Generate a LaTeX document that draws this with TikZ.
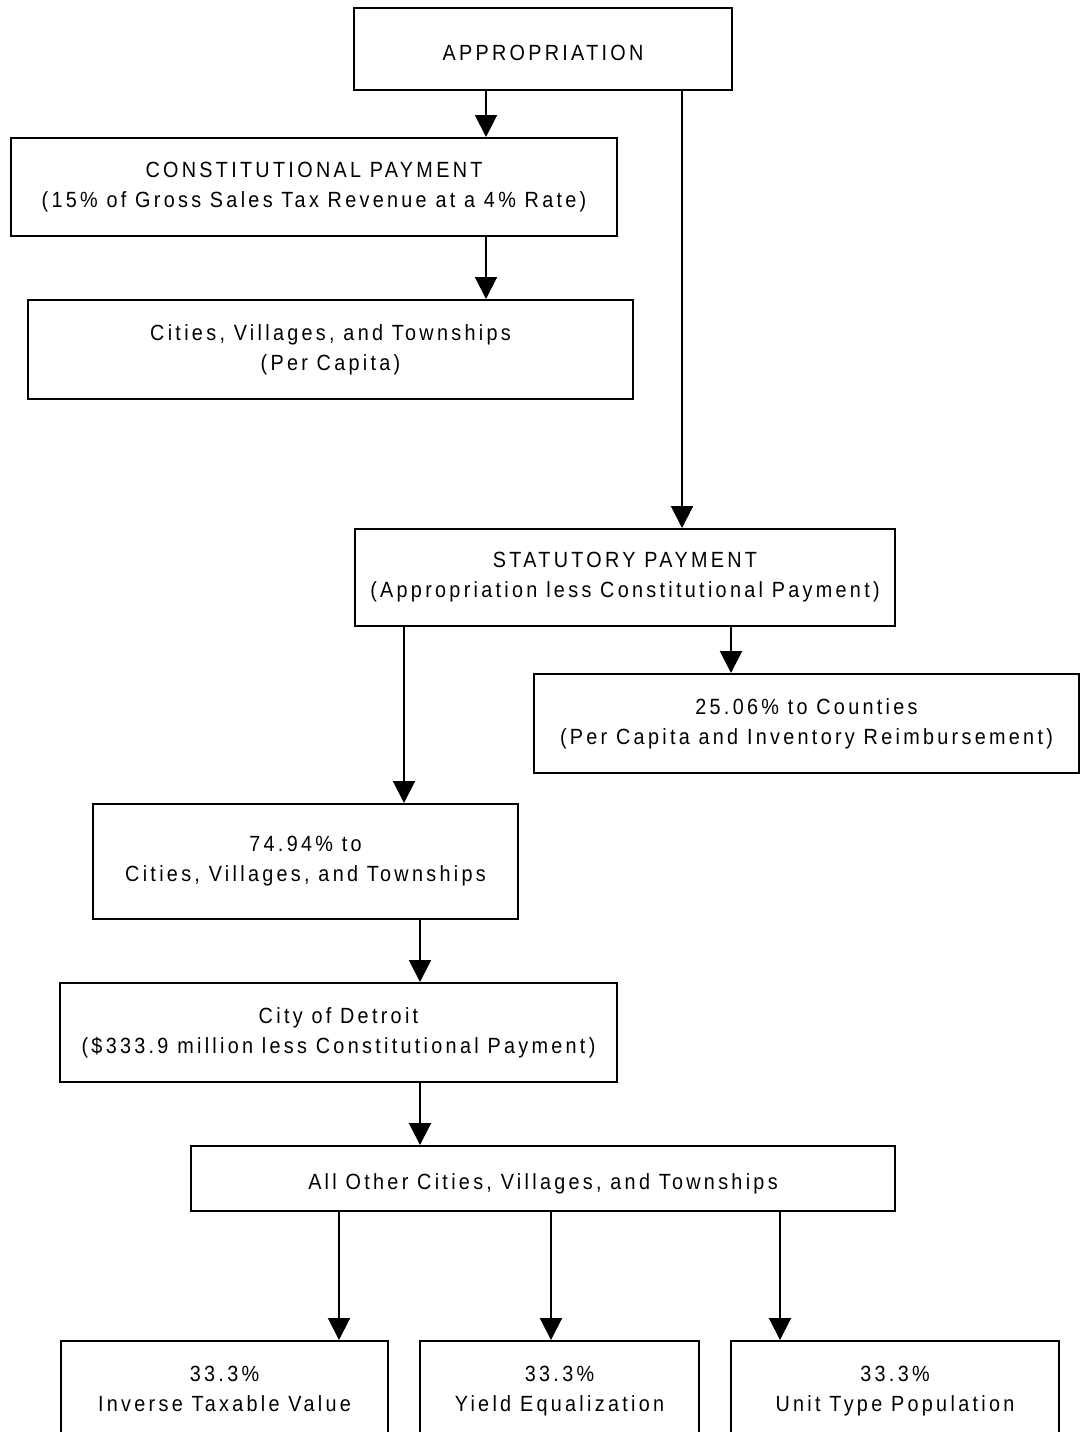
\documentclass[tikz,border=0pt]{standalone}
\usepackage{fontspec}
\setmainfont{Liberation Sans}[FakeStretch=0.9,LetterSpace=15]
\usetikzlibrary{arrows.meta}

\tikzset{
  box/.style={draw, line width=1pt, align=center, inner sep=0pt,
    font=\fontsize{11}{15}\selectfont,
    execute at begin node=\rule{0pt}{13pt},
    execute at end node=\rule[-2pt]{0pt}{2pt}},
  flow/.style={-{Triangle[length=11pt,width=11pt]}, line width=1pt}
}

\begin{document}
\begin{tikzpicture}[x=0.5pt,y=-0.5pt]
      \useasboundingbox (0,0) rectangle (1080,1432);
      \draw
        (543,49) node[box, minimum width=189pt, minimum height=41pt] (appr) {APPROPRIATION}
        (314,187) node[box, minimum width=303pt, minimum height=49pt] (const)
          {CONSTITUTIONAL PAYMENT\\(15\% of Gross Sales Tax Revenue at a 4\% Rate)}
        (330.5,349.5) node[box, minimum width=302.5pt, minimum height=49.5pt] (cvt)
          {Cities, Villages, and Townships\\(Per Capita)}
        (625,577.5) node[box, minimum width=270pt, minimum height=48.5pt] (stat)
          {STATUTORY PAYMENT\\(Appropriation less Constitutional Payment)}
        (806.5,723.5) node[box, minimum width=272.5pt, minimum height=49.5pt] (counties)
          {25.06\% to Counties\\(Per Capita and Inventory Reimbursement)}
        (305.5,861.5) node[box, minimum width=212.5pt, minimum height=57.5pt] (share)
          {74.94\% to\\Cities, Villages, and Townships}
        (338.5,1032.5) node[box, minimum width=278.5pt, minimum height=49.5pt] (detroit)
          {City of Detroit\\(\$333.9 million less Constitutional Payment)}
        (543,1178.5) node[box, minimum width=352pt, minimum height=32.5pt] (other)
          {All Other Cities, Villages, and Townships}
        (224.5,1391) node[box, minimum width=163.5pt, minimum height=50pt] (inv)
          {33.3\%\\Inverse Taxable Value}
        (559.5,1391) node[box, minimum width=139.5pt, minimum height=50pt] (yield)
          {33.3\%\\Yield Equalization}
        (895,1391) node[box, minimum width=164pt, minimum height=50pt] (unit)
          {33.3\%\\Unit Type Population};
      \begin{scope}[flow]
        \draw (appr.south -| 486,0) to (const.north -| 486,0);
        \draw (appr.south -| 682,0) to (stat.north -| 682,0);
        \draw (const.south -| 486,0) to (cvt.north -| 486,0);
        \draw (stat.south -| 404,0) to (share.north -| 404,0);
        \draw (stat.south -| 731,0) to (counties.north -| 731,0);
        \draw (share.south -| 420,0) to (detroit.north -| 420,0);
        \draw (detroit.south -| 420,0) to (other.north -| 420,0);
        \draw (other.south -| 339,0) to (inv.north -| 339,0);
        \draw (other.south -| 551,0) to (yield.north -| 551,0);
        \draw (other.south -| 780,0) to (unit.north -| 780,0);
      \end{scope}
    \end{tikzpicture}
\end{document}
